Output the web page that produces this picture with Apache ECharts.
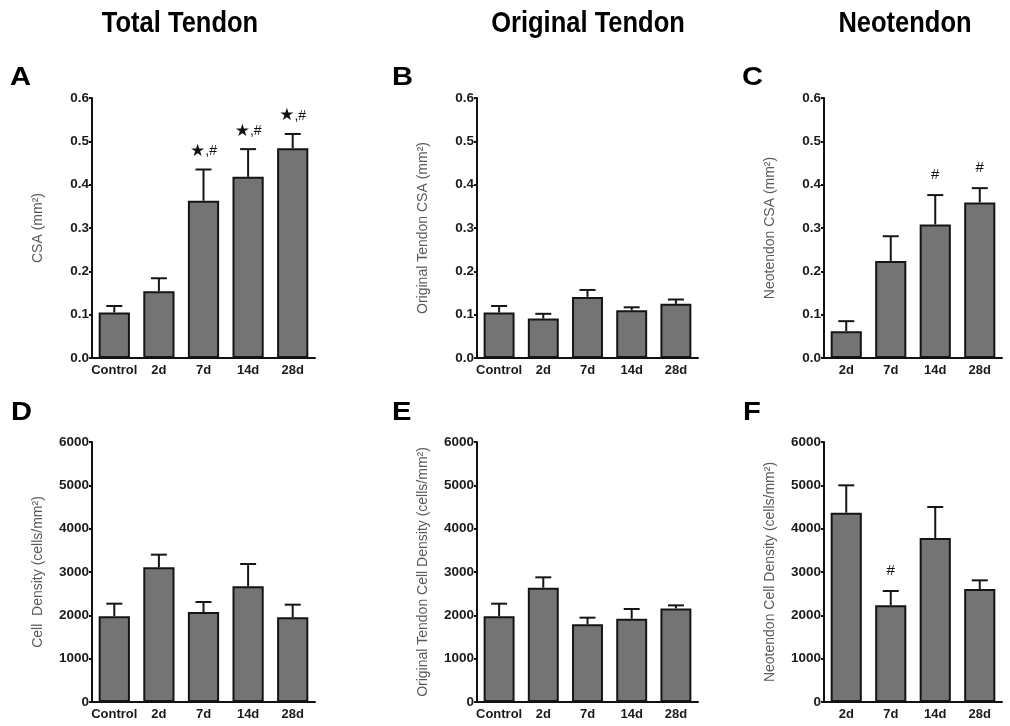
<!DOCTYPE html>
<html>
<head>
<meta charset="utf-8">
<script src="https://cdn.jsdelivr.net/npm/echarts@6/dist/echarts.min.js"></script>
<style>html,body{margin:0;padding:0;background:#fff;}#c{width:1010px;height:726px;}</style>
</head>
<body>
<div id="c"></div>
<script>
// ---- data ----
const catsAll = ['Control', '2d', '7d', '14d', '28d'];
const catsNeo = ['2d', '7d', '14d', '28d'];

const csaTotal = [0.105, 0.154, 0.363, 0.418, 0.484];
const csaTotalErr = [0.120, 0.184, 0.435, 0.482, 0.517];
const csaTotalNote = ['', '', '★,#', '★,#', '★,#'];

const csaOrig = [0.105, 0.091, 0.141, 0.110, 0.125];
const csaOrigErr = [0.120, 0.102, 0.157, 0.117, 0.135];
const csaOrigNote = ['', '', '', '', ''];

const csaNeo = [0.062, 0.224, 0.308, 0.359];
const csaNeoErr = [0.085, 0.281, 0.376, 0.392];
const csaNeoNote = ['', '', '#', '#'];

const denTotal = [1977, 3108, 2077, 2669, 1954];
const denTotalErr = [2269, 3400, 2308, 3185, 2246];
const denTotalNote = ['', '', '', '', ''];

const denOrig = [1977, 2638, 1792, 1923, 2160];
const denOrigErr = [2269, 2877, 1946, 2146, 2230];
const denOrigNote = ['', '', '', '', ''];

const denNeo = [4369, 2231, 3785, 2608];
const denNeoErr = [5000, 2562, 4500, 2808];
const denNeoNote = ['', '#', '', ''];

const headers = ['Total Tendon', 'Original Tendon', 'Neotendon'];
const letters = ['A', 'B', 'C', 'D', 'E', 'F'];
const yNames = ['CSA (mm²)', 'Original Tendon CSA (mm²)', 'Neotendon CSA (mm²)',
  'Cell  Density (cells/mm²)', 'Original Tendon Cell Density (cells/mm²)', 'Neotendon Cell Density (cells/mm²)'];

// ---- layout ----
const FONT = 'Liberation Sans, Arial, Helvetica, sans-serif';
const cols = [{left: 92, width: 223}, {left: 477, width: 221}, {left: 824, width: 178}];
const rows = [{top: 98, height: 260}, {top: 442, height: 260}];

const panels = [
  {cats: catsAll, v: csaTotal, e: csaTotalErr, n: csaTotalNote, max: 0.6, step: 0.1, dec: 1},
  {cats: catsAll, v: csaOrig, e: csaOrigErr, n: csaOrigNote, max: 0.6, step: 0.1, dec: 1},
  {cats: catsNeo, v: csaNeo, e: csaNeoErr, n: csaNeoNote, max: 0.6, step: 0.1, dec: 1},
  {cats: catsAll, v: denTotal, e: denTotalErr, n: denTotalNote, max: 6000, step: 1000, dec: 0},
  {cats: catsAll, v: denOrig, e: denOrigErr, n: denOrigNote, max: 6000, step: 1000, dec: 0},
  {cats: catsNeo, v: denNeo, e: denNeoErr, n: denNeoNote, max: 6000, step: 1000, dec: 0}
];

const grid = [], xAxis = [], yAxis = [], series = [];
panels.forEach((p, k) => {
  const c = cols[k % 3], r = rows[Math.floor(k / 3)];
  grid.push({left: c.left, width: c.width, top: r.top, height: r.height, containLabel: false});
  xAxis.push({
    type: 'category', gridIndex: k, data: p.cats,
    axisLine: {lineStyle: {color: '#111', width: 2}},
    axisTick: {alignWithLabel: true, length: 4, lineStyle: {color: '#111', width: 2}},
    axisLabel: {color: '#1a1a1a', fontSize: 13, fontWeight: 'bold', fontFamily: FONT, margin: 6, interval: 0}
  });
  yAxis.push({
    type: 'value', gridIndex: k, min: 0, max: p.max, interval: p.step,
    name: yNames[k], nameLocation: 'middle', nameGap: 47,
    nameTextStyle: {color: '#5a5a5a', fontSize: 14, fontFamily: FONT},
    splitLine: {show: false},
    axisLine: {show: true, lineStyle: {color: '#111', width: 2}},
    axisTick: {show: true, length: 3, lineStyle: {color: '#111', width: 2}},
    axisLabel: {color: '#1a1a1a', fontSize: 13.5, fontWeight: 'bold', fontFamily: FONT, margin: 3,
      formatter: v => v.toFixed(p.dec)}
  });
  series.push({
    type: 'bar', xAxisIndex: k, yAxisIndex: k, data: p.v, barWidth: '70%',
    itemStyle: {color: '#747474', borderColor: '#151515', borderWidth: 2},
    silent: true, animation: false
  });
  const notes = p.n;
  series.push({
    type: 'custom', xAxisIndex: k, yAxisIndex: k, animation: false, silent: true, z: 5,
    data: p.v.map((val, i) => [i, val, p.e[i]]),
    renderItem: (params, api) => {
      const i = api.value(0);
      const a = api.coord([i, api.value(1)]);
      const b = api.coord([i, api.value(2)]);
      const half = 8;
      const children = [
        {type: 'line', shape: {x1: a[0], y1: a[1], x2: b[0], y2: b[1]}, style: {stroke: '#151515', lineWidth: 2}},
        {type: 'line', shape: {x1: b[0] - half, y1: b[1], x2: b[0] + half, y2: b[1]}, style: {stroke: '#151515', lineWidth: 2}}
      ];
      const note = notes[params.dataIndex];
      if (note) {
        const parts = note.split(',');
        let txt, gap;
        if (parts.length === 2) { txt = '{s|' + parts[0] + '}{h|,' + parts[1] + '}'; gap = 10; }
        else { txt = '{h2|' + note + '}'; gap = 13; }
        children.push({
          type: 'text', x: b[0], y: b[1] - gap,
          style: {text: txt, textAlign: 'center', textVerticalAlign: 'bottom', fill: '#111',
            rich: {
              s: {fontSize: 17, fontFamily: 'DejaVu Sans', fill: '#111', lineHeight: 16, verticalAlign: 'middle'},
              h: {fontSize: 14, fontFamily: FONT, fill: '#111', lineHeight: 16, verticalAlign: 'middle'},
              h2: {fontSize: 15, fontFamily: FONT, fill: '#111'}
            }}
        });
      }
      return {type: 'group', children};
    }
  });
});

const graphic = [];
const headerX = [180, 588, 905];
headers.forEach((h, i) => graphic.push({
  type: 'text', x: headerX[i], y: 9, scaleX: 0.85,
  style: {text: h, fontSize: 30, fontWeight: 'bold', fontFamily: FONT, fill: '#000', textAlign: 'center', textVerticalAlign: 'top'}
}));
const letterPos = [[10, 65], [392, 65], [742, 65], [11, 400], [392, 400], [743, 400]];
letters.forEach((l, i) => graphic.push({
  type: 'text', x: letterPos[i][0], y: letterPos[i][1], scaleX: 1.12,
  style: {text: l, fontSize: 26, fontWeight: 'bold', fontFamily: FONT, fill: '#000', textVerticalAlign: 'top'}
}));

const chart = echarts.init(document.getElementById('c'), null, {renderer: 'canvas'});
chart.setOption({animation: false, backgroundColor: '#fff', grid, xAxis, yAxis, series, graphic});
</script>
</body>
</html>
